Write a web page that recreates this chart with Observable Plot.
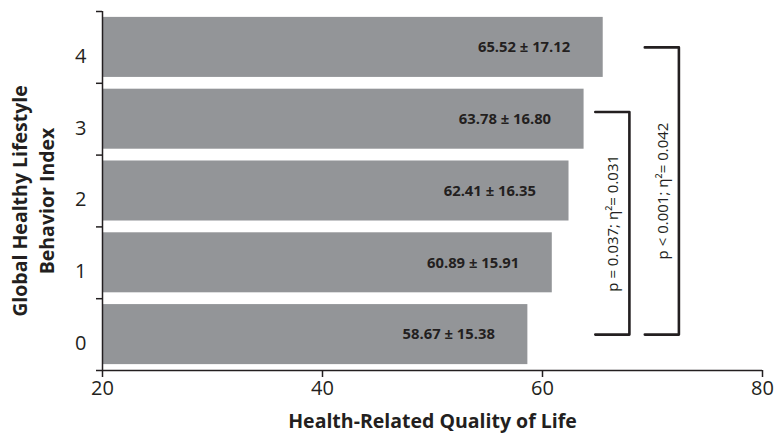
<!DOCTYPE html>
<html><head><meta charset="utf-8">
<script src="https://cdn.jsdelivr.net/npm/d3@7"></script>
<script src="https://cdn.jsdelivr.net/npm/@observablehq/plot@0.6"></script>
<style>html,body{margin:0;padding:0;background:#fff} svg{display:block}</style>
</head><body><div id="chart"></div>
<script>
const categories = [0, 1, 2, 3, 4];
const means = [58.67, 60.89, 62.41, 63.78, 65.52];
const sds = [15.38, 15.91, 16.35, 16.80, 17.12];
const xTicks = [20, 40, 60, 80];
const xDomain = [20, 80];
const brackets = [
  {from: 0, to: 3.1, x: 67.9, label: "p = 0.037; η²= 0.031"},
  {from: 0, to: 4, x: 72.4, label: "p < 0.001; η²= 0.042"}
];
const xTitle = "Health-Related Quality of Life";
const yTitle = "Global Healthy Lifestyle\nBehavior Index";

const ink = "#231f20";
const data = categories.map((c, i) => ({c, mean: means[i], sd: sds[i],
  label: `${means[i].toFixed(2)} ± ${sds[i].toFixed(2)}`}));
const half = 0.418;
const armLen = 3.1;
const bracketPts = brackets.flatMap((b, k) => [
  {k, x: b.x - armLen, y: b.to}, {k, x: b.x, y: b.to},
  {k, x: b.x, y: b.from}, {k, x: b.x - armLen, y: b.from}
]);
const boundaries = [-0.5, ...categories.map(c => c + 0.5)];

const chart = Plot.plot({
  width: 774, height: 437,
  marginLeft: 102, marginRight: 12, marginTop: 11, marginBottom: 67,
  x: {domain: xDomain},
  y: {domain: [-0.5, 4.5]},
  style: {fontFamily: "Open Sans", color: ink, background: "#fff"},
  marks: [
    Plot.rectX(data, {x1: xDomain[0], x2: "mean", y1: d => d.c - half, y2: d => d.c + half, fill: "#939598"}),
    Plot.text(data, {x: "mean", y: "c", text: "label", textAnchor: "end", dx: -33, fontWeight: "bold", fontSize: 14.8, fill: ink}),
    Plot.axisX({ticks: xTicks, tickSize: 7, tickPadding: 3, fontSize: 20, label: null, strokeWidth: 1.5}),
    Plot.axisY({ticks: boundaries, tickSize: 6, tickFormat: () => "", label: null, strokeWidth: 1.5}),
    Plot.axisY({ticks: categories, tickFormat: "d", tickSize: 0, tickPadding: 16, dy: 9, fontSize: 20, label: null}),
    Plot.ruleX([xDomain[0]], {stroke: ink, strokeWidth: 1.5}),
    Plot.ruleY([-0.5], {stroke: ink, strokeWidth: 1.5}),
    Plot.line(bracketPts, {x: "x", y: "y", z: "k", stroke: ink, strokeWidth: 2.6}),
    Plot.text(brackets, {x: "x", y: d => (d.from + d.to) / 2, text: "label", rotate: -90, dx: -16, fontSize: 15, fill: ink}),
    Plot.text([xTitle], {frameAnchor: "bottom", lineAnchor: "middle", dy: 51, fontWeight: "bold", fontSize: 19.5, fill: ink}),
    Plot.text([yTitle], {frameAnchor: "left", textAnchor: "middle", lineAnchor: "middle", dx: -71, dy: 10, rotate: -90, fontWeight: "bold", fontSize: 19.5, lineHeight: 1.4, fill: ink})
  ]
});
document.getElementById("chart").append(chart);
</script>
</body></html>
